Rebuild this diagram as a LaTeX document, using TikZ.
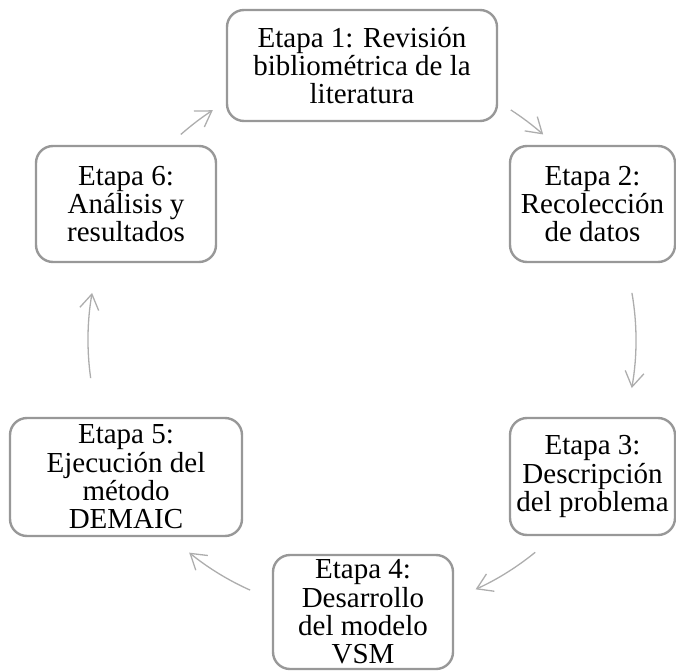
\documentclass[tikz,border=0pt]{standalone}
\usepackage{fontspec}
\setmainfont{Liberation Serif}
\usetikzlibrary{arrows.meta,calc}
\definecolor{boxline}{HTML}{989898}
\definecolor{arcline}{HTML}{ADADAD}
\begin{document}
\begin{tikzpicture}[x=1pt,y=1pt,
  stage/.style={draw=boxline, line width=2.4pt, rounded corners=17pt, fill=white,
    align=center, inner sep=0pt, font=\fontsize{29}{28.3}\selectfont},
  conn/.style={draw=arcline, line width=1.3pt,
    -{Straight Barb[length=15pt,width=19pt,line width=1.3pt]}}]
\useasboundingbox (0,0) rectangle (676,670);
% stage boxes
\node[stage, minimum width=270, minimum height=111] (e1) at (362,604.5)
  {Etapa 1: Revisión\\bibliométrica de la\\literatura};
\node[stage, minimum width=165, minimum height=116] (e2) at (592.5,466)
  {Etapa 2:\\Recolección\\de datos};
\node[stage, minimum width=165, minimum height=117] (e3) at (592.5,193.5)
  {Etapa 3:\\Descripción\\del problema};
\node[stage, minimum width=180, minimum height=114] (e4) at (363,58)
  {Etapa 4:\\Desarrollo\\del modelo\\VSM};
\node[stage, minimum width=232, minimum height=118] (e5) at (126,193)
  {Etapa 5:\\Ejecución del\\método\\DEMAIC};
\node[stage, minimum width=180, minimum height=116] (e6) at (126,466)
  {Etapa 6:\\Análisis y\\resultados};
% cycle arcs on a common circle
\coordinate (c) at (362,330);
\coordinate (s12) at ($(c)+(57.1:274)$);
\coordinate (s23) at ($(c)+(9.9:274)$);
\coordinate (s34) at ($(c)+(-50.8:274)$);
\coordinate (s45) at ($(c)+(245.9:274)$);
\coordinate (s56) at ($(c)+(188:274)$);
\coordinate (s61) at ($(c)+(131.4:274)$);
\draw[conn] (s12) arc[start angle=57.1, end angle=48.6, radius=274];
\draw[conn] (s23) arc[start angle=9.9, end angle=-10.1, radius=274];
\draw[conn] (s34) arc[start angle=-50.8, end angle=-65.5, radius=274];
\draw[conn] (s45) arc[start angle=245.9, end angle=230.9, radius=274];
\draw[conn] (s56) arc[start angle=188, end angle=170.1, radius=274];
\draw[conn] (s61) arc[start angle=131.4, end angle=123, radius=274];
\end{tikzpicture}
\end{document}
